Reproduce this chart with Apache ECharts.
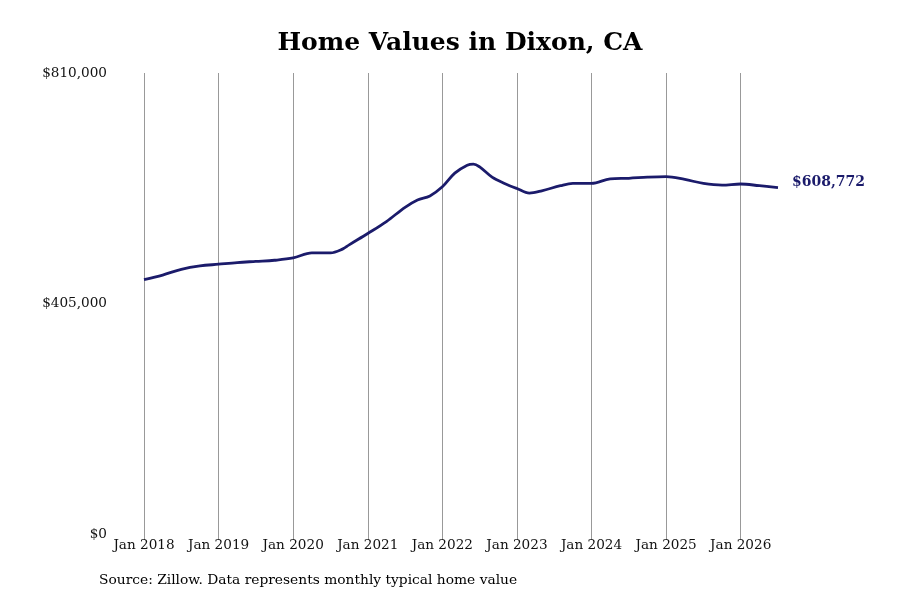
<!DOCTYPE html>
<html>
<head>
<meta charset="utf-8">
<script src="https://cdn.jsdelivr.net/npm/echarts@6/dist/echarts.min.js"></script>
<style>
  html, body { margin: 0; padding: 0; background: #fff; }
  #chart { width: 900px; height: 600px; }
</style>
</head>
<body>
<div id="chart"></div>
<script>
// Valores típicos de vivienda (Zillow) en Dixon, CA
const months = [
  '2018-01', '2018-04', '2018-07', '2018-10',
  '2019-01', '2019-04', '2019-07', '2019-10',
  '2020-01', '2020-04', '2020-07', '2020-09', '2020-10',
  '2021-01', '2021-04', '2021-07', '2021-09', '2021-11',
  '2022-01', '2022-03', '2022-05', '2022-06', '2022-07', '2022-09', '2022-11',
  '2023-01', '2023-03', '2023-05', '2023-08', '2023-10',
  '2024-01', '2024-04', '2024-07', '2024-10',
  '2025-01', '2025-04', '2025-07', '2025-10',
  '2026-01', '2026-04', '2026-07',
];
const values = [
  447000, 455000, 465000, 471000,
  474000, 477000, 479000, 481000,
  485000, 494000, 494000, 501000, 508000,
  528000, 549000, 574000, 587000, 594000,
  610000, 634000, 648000, 650000, 645000, 627000, 616000,
  607000, 599000, 603000, 612000, 616000,
  616000, 624000, 625000, 627000,
  628000, 623000, 616000, 613000,
  615000, 612000, 608772,
];
const yTicks = [0, 405000, 810000];
const xYears = [2018, 2019, 2020, 2021, 2022, 2023, 2024, 2025, 2026];

const SERIF = "'DejaVu Serif', serif";
const NAVY = '#1b1b6b';

const toYear = m => {
  const [y, mo] = m.split('-').map(Number);
  return y + (mo - 1) / 12;
};
const data = months.map((m, i) => [toYear(m), values[i]]);
const money = v => '$' + Math.round(v).toLocaleString('en-US');

const chart = echarts.init(document.getElementById('chart'), null, { renderer: 'canvas' });
chart.setOption({
  backgroundColor: '#fff',
  animation: false,
  grid: { left: 144, right: 122, top: 73, bottom: 66 },
  xAxis: {
    type: 'value',
    min: xYears[0],
    max: toYear(months[months.length - 1]),
    interval: 1,
    axisLine: { show: false },
    axisTick: { show: true, length: 6, lineStyle: { color: '#999' } },
    axisLabel: {
      color: '#111', fontFamily: SERIF, fontSize: 13.6, margin: 4,
      showMaxLabel: false,
      formatter: v => xYears.includes(v) ? 'Jan ' + v : '',
    },
    splitLine: { show: true, showMaxLine: false, lineStyle: { color: '#999', width: 1 } },
  },
  yAxis: {
    type: 'value',
    min: yTicks[0],
    max: yTicks[yTicks.length - 1],
    interval: yTicks[1] - yTicks[0],
    axisLine: { show: false },
    axisTick: { show: false },
    splitLine: { show: false },
    axisLabel: { color: '#111', fontFamily: SERIF, fontSize: 13.6, margin: 37, formatter: money },
  },
  series: [{
    type: 'line',
    data,
    smooth: 0.35,
    showSymbol: false,
    lineStyle: { color: NAVY, width: 2.8 },
    endLabel: {
      show: true,
      distance: 14,
      offset: [0, -5],
      formatter: p => money(p.value[1]),
      color: NAVY,
      fontFamily: SERIF,
      fontWeight: 'bold',
      fontSize: 14,
    },
  }],
  graphic: [
    {
      type: 'text',
      x: 460,
      y: 43,
      style: {
        text: 'Home Values in Dixon, CA',
        fill: '#000',
        font: "bold 25px " + SERIF,
        align: 'center',
        verticalAlign: 'middle',
      },
    },
    {
      type: 'text',
      left: 99,
      top: 573,
      style: { text: 'Source: Zillow. Data represents monthly typical home value', fill: '#000', font: "13.8px " + SERIF },
    },
  ],
});
</script>
</body>
</html>
